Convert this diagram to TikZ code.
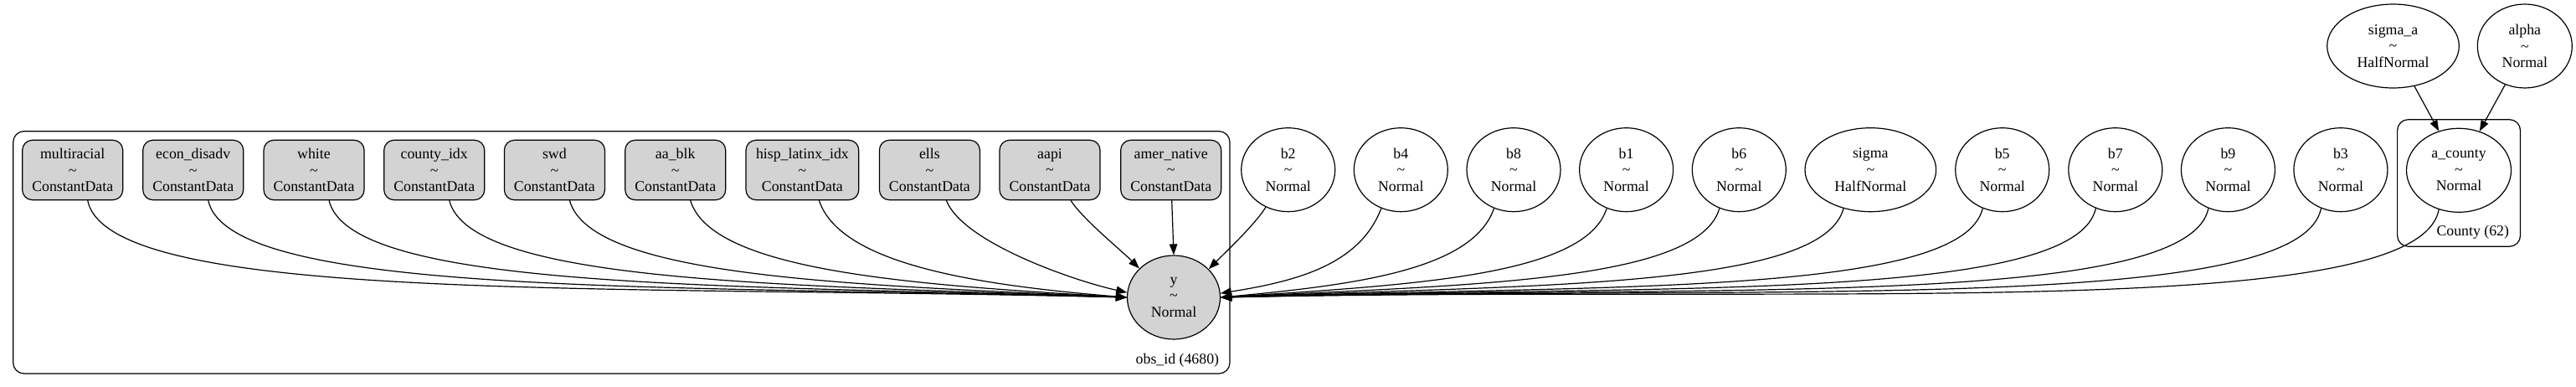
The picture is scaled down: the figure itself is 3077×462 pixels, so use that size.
\documentclass[tikz,border=0pt]{standalone}
\usepackage{fontspec}
\setmainfont{Liberation Serif}
\usetikzlibrary{shapes.geometric,arrows.meta,calc}
\definecolor{gd}{RGB}{211,211,211}
\begin{document}
\begin{tikzpicture}[x=1pt,y=1pt, line width=1.2pt,
  every node/.style={font=\fontsize{17.8}{19.7}\selectfont, align=center, inner sep=0pt},
  databox/.style={draw, rounded corners=12pt, fill=gd, minimum width=120pt, minimum height=71.4pt},
  rv/.style={draw, ellipse, minimum width=112pt, minimum height=100pt},
  plate/.style={draw, rounded corners=13pt},
  edge/.style={-{Triangle[length=13pt,width=9.5pt]}}
]
\useasboundingbox (0,0) rectangle (3077,-462);
% plates
\node[plate, minimum width=1453.3pt, minimum height=289.3pt] (obsplate) at (742.35,-301.35) {};
\node[anchor=east] (obslabel) at (1456.7,-430) {obs\_id (4680)};
\node[plate, minimum width=146.9pt, minimum height=151.6pt] (countyplate) at (2937.05,-218.5) {};
\node[anchor=east] (countylabel) at (2997.6,-277.7) {County (62)};
% data boxes
\node[databox] (multiracial) at (86.7,-203) {multiracial\\\textasciitilde\\ConstantData};
\node[databox] (econ) at (230.7,-203) {econ\_disadv\\\textasciitilde\\ConstantData};
\node[databox] (white) at (375,-203) {white\\\textasciitilde\\ConstantData};
\node[databox] (county) at (518.7,-203) {county\_idx\\\textasciitilde\\ConstantData};
\node[databox] (swd) at (662.4,-203) {swd\\\textasciitilde\\ConstantData};
\node[databox] (aablk) at (806.7,-203) {aa\_blk\\\textasciitilde\\ConstantData};
\node[databox, minimum width=134.7pt] (hisp) at (958.4,-203) {hisp\_latinx\_idx\\\textasciitilde\\ConstantData};
\node[databox] (ells) at (1110.4,-203) {ells\\\textasciitilde\\ConstantData};
\node[databox] (aapi) at (1254,-203) {aapi\\\textasciitilde\\ConstantData};
\node[databox] (amer) at (1398.7,-203) {amer\_native\\\textasciitilde\\ConstantData};
% random variables
\node[rv, fill=gd, minimum width=111pt] (y) at (1402,-355) {y\\\textasciitilde\\Normal};
\node[rv] (b2) at (1538.7,-202.7) {b2\\\textasciitilde\\Normal};
\node[rv] (b4) at (1673.3,-202.7) {b4\\\textasciitilde\\Normal};
\node[rv] (b8) at (1808,-202.7) {b8\\\textasciitilde\\Normal};
\node[rv] (b1) at (1942.6,-202.7) {b1\\\textasciitilde\\Normal};
\node[rv] (b6) at (2077.3,-202.7) {b6\\\textasciitilde\\Normal};
\node[rv, minimum width=156.6pt] (sigma) at (2234.3,-202.7) {sigma\\\textasciitilde\\HalfNormal};
\node[rv] (b5) at (2391.7,-202.7) {b5\\\textasciitilde\\Normal};
\node[rv] (b7) at (2526.8,-202.7) {b7\\\textasciitilde\\Normal};
\node[rv] (b9) at (2661.4,-202.7) {b9\\\textasciitilde\\Normal};
\node[rv] (b3) at (2795.9,-202.7) {b3\\\textasciitilde\\Normal};
\node[rv, minimum width=125pt] (acounty) at (2937,-203.3) {a\_county\\\textasciitilde\\Normal};
\node[rv, minimum width=157.6pt] (sigmaa) at (2858.5,-55) {sigma\_a\\\textasciitilde\\HalfNormal};
\node[rv, minimum width=113pt] (alpha) at (3015.8,-55) {alpha\\\textasciitilde\\Normal};
% left edges
\draw[edge] ([xshift=18pt]multiracial.south) .. controls +(25,-123.3) and +(-620.9,15) .. (y.west);
\draw[edge] ([xshift=18pt]econ.south) .. controls +(25,-115.4) and +(-548.9,15) .. (y.west);
\draw[edge] ([xshift=18pt]white.south) .. controls +(25,-107.4) and +(-476.8,15) .. (y.west);
\draw[edge] ([xshift=18pt]county.south) .. controls +(25,-99.5) and +(-404.9,15) .. (y.west);
\draw[edge] ([xshift=18pt]swd.south) .. controls +(25,-91.6) and +(-333,15) .. (y.west);
\draw[edge] ([xshift=18pt]aablk.south) .. controls +(25,-83.7) and +(-260.9,15) .. (y.west);
\draw[edge] ([xshift=20pt]hisp.south) .. controls +(25,-75.2) and +(-184,15) .. (y.west);
\draw[edge] ([xshift=20pt]ells.south) .. controls +(20,-51) and +(-60,13) .. (y.174);
\draw[edge] ([xshift=25pt]aapi.south) .. controls +(14,-22) and +(-22,22) .. (y.140);
\draw[edge] ([xshift=1pt]amer.south) -- (y.north);
% right edges
\draw[edge] (b2.-121) .. controls +(-12,-20) and +(18,18) .. (y.39);
\draw[edge] (b4.-117) .. controls +(-25,-65.5) and +(95.4,15) .. (y.5);
\draw[edge] (b8.-117) .. controls +(-25,-72.9) and +(162.9,15) .. (y.east);
\draw[edge] (b1.-117) .. controls +(-25,-80.4) and +(230.9,15) .. (y.east);
\draw[edge] (b6.-117) .. controls +(-25,-87.8) and +(298.3,15) .. (y.east);
\draw[edge] (sigma.-125) .. controls +(-25,-95.9) and +(372.1,15) .. (y.east);
\draw[edge] (b5.-117) .. controls +(-25,-105.1) and +(455.8,15) .. (y.east);
\draw[edge] (b7.-117) .. controls +(-25,-112.5) and +(522.8,15) .. (y.east);
\draw[edge] (b9.-117) .. controls +(-25,-119.9) and +(590.3,15) .. (y.east);
\draw[edge] (b3.-117) .. controls +(-25,-127.4) and +(657.8,15) .. (y.east);
\draw[edge] (acounty.-117) .. controls +(-25,-135) and +(727,15) .. (y.east);
% top edges
\draw[edge] (sigmaa.-62) -- (acounty.117);
\draw[edge] (alpha.-117) -- (acounty.62);
\end{tikzpicture}
\end{document}
